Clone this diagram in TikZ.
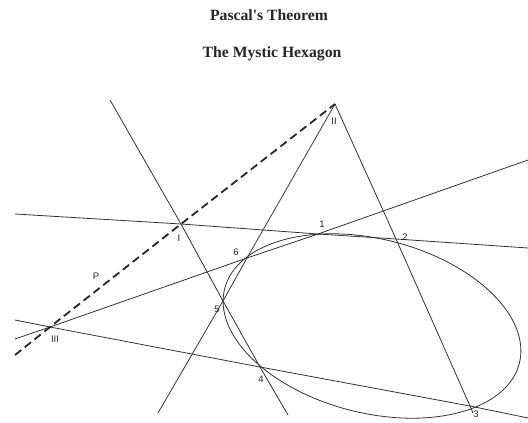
\documentclass[tikz,border=0pt]{standalone}
\usepackage{fontspec}
\setmainfont{Liberation Serif}
\newfontfamily\labfont{Liberation Sans}
\begin{document}
\begin{tikzpicture}[x=1pt,y=-1pt,
  ln/.style={draw=black!80, line width=0.8pt},
  pline/.style={draw=black!85, line width=1.8pt, dash pattern=on 8pt off 4.5pt},
  lab/.style={font=\labfont\fontsize{9.5}{10}\selectfont, text=black!85, inner sep=0pt},
  ttl/.style={font=\bfseries\fontsize{15.7}{17}\selectfont, text=black!85, inner sep=0pt}]
\useasboundingbox (0,0) rectangle (528,423);
% titles
\node[ttl] (t1) at (269,15) {Pascal\textquotesingle s Theorem};
\node[ttl] (t2) at (272,54) {The Mystic Hexagon};
% points
\coordinate (p1) at (318,234);
\coordinate (p2) at (396,239);
\coordinate (p3) at (470,406);
\coordinate (p4) at (260,367);
\coordinate (p5) at (223,301);
\coordinate (p6) at (247,258);
\coordinate (PI) at (181,224);
\coordinate (PII) at (335,104);
\coordinate (PIII) at (50,327);
% line ends
\coordinate (a12) at (15,214);   \coordinate (b12) at (528,248);
\coordinate (a61) at (15,339);   \coordinate (b61) at (528,160);
\coordinate (a34) at (15,320);   \coordinate (b34) at (528,418);
\coordinate (a45) at (110,100);  \coordinate (b45) at (288,415);
\coordinate (b56) at (158,413);
\coordinate (b23) at (473,413);
\coordinate (aP) at (15,355);
% conic
\draw[ln] plot[domain=0:360, samples=120, smooth cycle]
  ({372 + 152*cos(\x)*cos(14.2) - 87*sin(\x)*sin(14.2)},
   {326 + 152*cos(\x)*sin(14.2) + 87*sin(\x)*cos(14.2)});
% lines
\draw[ln] (a12) -- (PI) -- (p1) -- (p2) -- (b12);
\draw[ln] (a61) -- (PIII) -- (p6) -- (p1) -- (b61);
\draw[ln] (a34) -- (PIII) -- (p4) -- (p3) -- (b34);
\draw[ln] (a45) -- (PI) -- (p5) -- (p4) -- (b45);
\draw[ln] (PII) -- (p6) -- (p5) -- (b56);
\draw[ln] (PII) -- (p2) -- (p3) -- (b23);
\draw[pline] (aP) -- (PIII) -- (PI) -- (PII);
% labels
\node[lab] (l1) at (322,224) {1};
\node[lab] (l2) at (405,237) {2};
\node[lab] (l3) at (476,414) {3};
\node[lab] (l4) at (261,379) {4};
\node[lab] (l5) at (217,309) {5};
\node[lab] (l6) at (236,252) {6};
\node[lab] (lI) at (179,238) {I};
\node[lab] (lII) at (334,121) {II};
\node[lab] (lIII) at (55,339) {III};
\node[lab] (lP) at (96,276) {P};
\end{tikzpicture}
\end{document}
